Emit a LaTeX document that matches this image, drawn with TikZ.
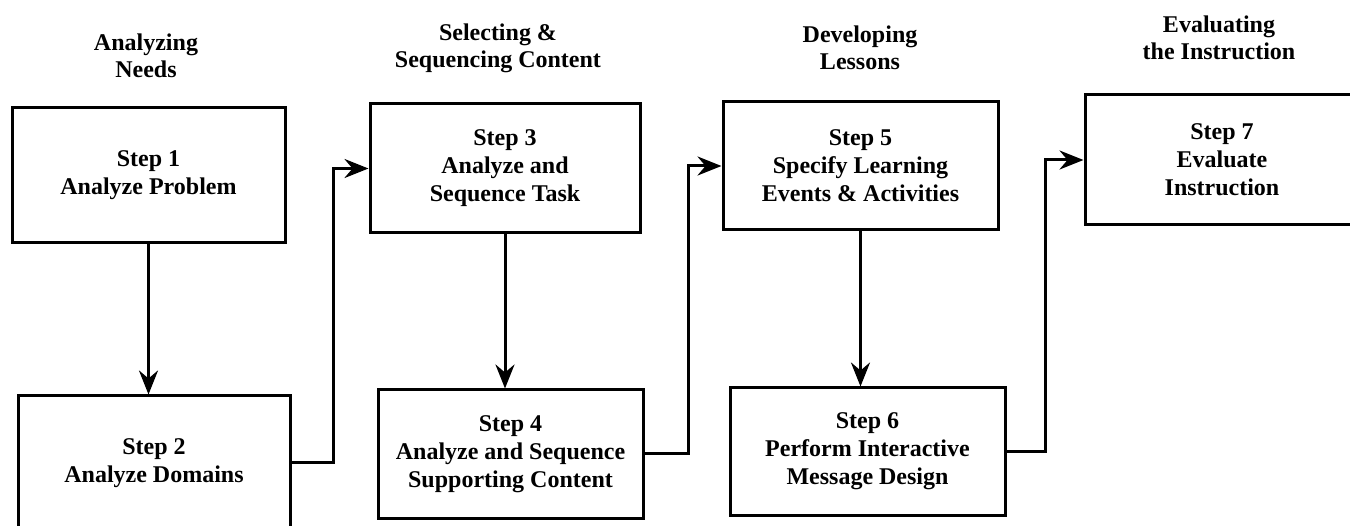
\documentclass[tikz,border=0pt]{standalone}
\usepackage{fontspec}
\setmainfont{Liberation Serif}
\usetikzlibrary{arrows.meta}
\begin{document}
\begin{tikzpicture}[x=1pt,y=-1pt,
  stepbox/.style={draw, line width=3pt, minimum width=#1, inner sep=0pt,
    align=center, font=\bfseries\fontsize{24}{28}\selectfont},
  phase/.style={align=center, font=\bfseries\fontsize{24}{27}\selectfont},
  link/.style={line width=3pt, -{Stealth[length=24pt,width=19pt,inset=8pt]}}]
\useasboundingbox (0,0) rectangle (1350,526);
\clip (0,0) rectangle (1350,526);
\fill[white] (0,0) rectangle (1350,526);

% phase headings
\node[phase] (h1) at (146,56) {Analyzing\\Needs};
\node[phase] (h2) at (498,48) {Selecting \&\\Sequencing Content};
\node[phase] (h3) at (860,48) {Developing\\Lessons};
\node[phase] (h4) at (1219,38) {Evaluating\\the Instruction};

% step boxes
\node[stepbox=273pt, minimum height=135pt] (b1) at (148.5,175.5) {Step 1\\Analyze Problem};
\node[stepbox=272pt, minimum height=134pt] (b2) at (154,463) {Step 2\\Analyze Domains};
\node[stepbox=270pt, minimum height=129pt] (b3) at (505,168.5) {Step 3\\Analyze and\\Sequence Task};
\node[stepbox=265pt, minimum height=128pt] (b4) at (510.5,454) {Step 4\\Analyze and Sequence\\Supporting Content};
\node[stepbox=275pt, minimum height=128pt] (b5) at (860.5,166) {Step 5\\Specify Learning\\Events \& Activities};
\node[stepbox=275pt, minimum height=127pt] (b6) at (867.5,451.5) {Step 6\\Perform Interactive\\Message Design};
\node[stepbox=274pt, minimum height=130pt] (b7) at (1222,160) {Step 7\\Evaluate\\Instruction};

% routing points of the connectors between phases
\coordinate (j1) at (333,0);
\coordinate (j2) at (688,0);
\coordinate (j3) at (1045,0);

% downward arrows within a phase
\draw[link] (b1.south) -- (b1.south |- b2.north);
\draw[link] (b3.south) -- (b3.south |- b4.north);
\draw[link] (b5.south) -- (b5.south |- b6.north);

% connectors from one phase to the next
\draw[link] (b2.east) -- (b2.east -| j1) -- (j1 |- b3.west) -- (b3.west);
\draw[link] (b4.east) -- (b4.east -| j2) -- (j2 |- b5.west) -- (b5.west);
\draw[link] (b6.east) -- (b6.east -| j3) -- (j3 |- b7.west) -- (b7.west);
\end{tikzpicture}
\end{document}
